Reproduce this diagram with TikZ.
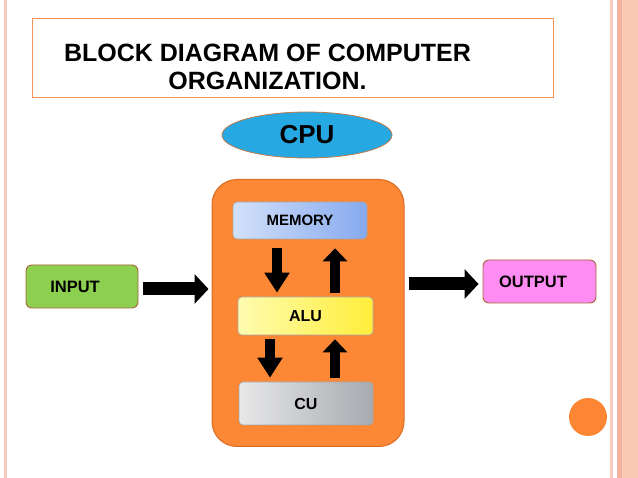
\documentclass[tikz,border=0pt]{standalone}
\usepackage{fontspec}
\setmainfont{Liberation Sans}
\usetikzlibrary{arrows.meta,shapes.geometric}
\definecolor{stripe}{HTML}{F6CBBD}
\definecolor{stripedark}{HTML}{F3B39E}
\definecolor{stripeband}{HTML}{FBC8B4}
\definecolor{titleborder}{HTML}{F0955A}
\definecolor{cpublue}{HTML}{26A9E3}
\definecolor{cpuborder}{HTML}{C07A4A}
\definecolor{boxorange}{HTML}{FC8835}
\definecolor{boxorangeborder}{HTML}{DC6C22}
\definecolor{inputgreen}{HTML}{8DCF4F}
\definecolor{outputpink}{HTML}{FF8CF2}
\definecolor{brownborder}{HTML}{A8643A}
\definecolor{memleft}{HTML}{D3E1FA}
\definecolor{memright}{HTML}{86A9EE}
\definecolor{alueft}{HTML}{FFFCB0}
\definecolor{aluright}{HTML}{FFEE3A}
\definecolor{culeft}{HTML}{E8E8E9}
\definecolor{curight}{HTML}{A7AAAF}
\definecolor{dotorange}{HTML}{FD8634}
\tikzset{
  unitbox/.style={draw=gray!70, line width=0.6pt, rounded corners=4pt, font=\bfseries\fontsize{16}{18}\selectfont},
  sidebox/.style={draw=brownborder, line width=0.9pt, rounded corners=6pt, minimum width=112pt, minimum height=43pt},
  bigarrow/.style={line width=13pt, -{Triangle[width=29pt,length=14pt]}},
  downarrow/.style={line width=10pt, -{Triangle[width=24pt,length=20pt]}},
  uparrow/.style={line width=10pt, -{Triangle[width=24pt,length=13pt]}}
}
\begin{document}
\begin{tikzpicture}[x=1pt,y=-1pt]
\useasboundingbox (0,0) rectangle (638,478);
\fill[white] (0,0) rectangle (638,478);
% decorative stripes
\fill[stripe] (4,0) rectangle (6.5,478);
\fill[stripe] (610,0) rectangle (613,478);
\fill[stripeband] (617,0) rectangle (638,478);
\fill[stripedark] (617,0) rectangle (622,478);
% title
\node[draw=titleborder, line width=1pt, minimum width=521pt, minimum height=79pt,
  label={[xshift=-25pt,yshift=-8.5pt,align=center,font=\bfseries\fontsize{25}{28}\selectfont]center:BLOCK DIAGRAM OF COMPUTER\\ORGANIZATION.}]
  (title) at (292.5,58.5) {};
% CPU ellipse
\node[ellipse, draw=cpuborder, line width=0.8pt, fill=cpublue, minimum width=170pt, minimum height=46pt,
  font=\bfseries\fontsize{26}{28}\selectfont] (cpu) at (307,135) {CPU};
% CPU box
\node[draw=boxorangeborder, line width=1pt, fill=boxorange, rounded corners=25pt,
  minimum width=192pt, minimum height=267pt] (cpubox) at (308,313) {};
% units
\node[unitbox, left color=memleft, right color=memright, minimum width=134pt, minimum height=37pt,
  font=\bfseries\fontsize{15}{17}\selectfont] (mem) at (300,220.5) {MEMORY};
\node[unitbox, left color=alueft, right color=aluright, minimum width=135pt, minimum height=38pt] (alu) at (305.5,316) {ALU};
\node[unitbox, left color=culeft, right color=curight, minimum width=134pt, minimum height=43pt] (cu) at (306,403.5) {CU};
% internal arrows
\draw[downarrow] ([xshift=-23pt,yshift=-9pt]mem.south) -- ([xshift=-28.5pt,yshift=4pt]alu.north);
\draw[uparrow] ([xshift=29.5pt,yshift=4pt]alu.north) -- ([xshift=35pt,yshift=-9pt]mem.south);
\draw[downarrow] ([xshift=-35.5pt,yshift=-4pt]alu.south) -- ([xshift=-36pt,yshift=4pt]cu.north);
\draw[uparrow] ([xshift=29pt,yshift=4pt]cu.north) -- ([xshift=29.5pt,yshift=-4pt]alu.south);
% input / output
\node[sidebox, fill=inputgreen,
  label={[xshift=-7pt,font=\bfseries\fontsize{16.5}{18}\selectfont]center:INPUT}] (in) at (82,286.5) {};
\node[sidebox, fill=outputpink, minimum width=113pt,
  label={[xshift=-6.5pt,font=\bfseries\fontsize{16.5}{18}\selectfont]center:OUTPUT}] (out) at (539.5,281.5) {};
\draw[bigarrow] ([xshift=5pt,yshift=-2.5pt]in.east) -- ([xshift=-3pt,yshift=-2.5pt]in.east -| cpubox.west);
\draw[bigarrow] ([xshift=4pt,yshift=-2.5pt]out.west -| cpubox.east) -- ([xshift=-4pt,yshift=-2.5pt]out.west);
% decorative dot
\node[circle, fill=dotorange, minimum size=38pt, inner sep=0pt] (dot) at (588,417) {};
\end{tikzpicture}
\end{document}
